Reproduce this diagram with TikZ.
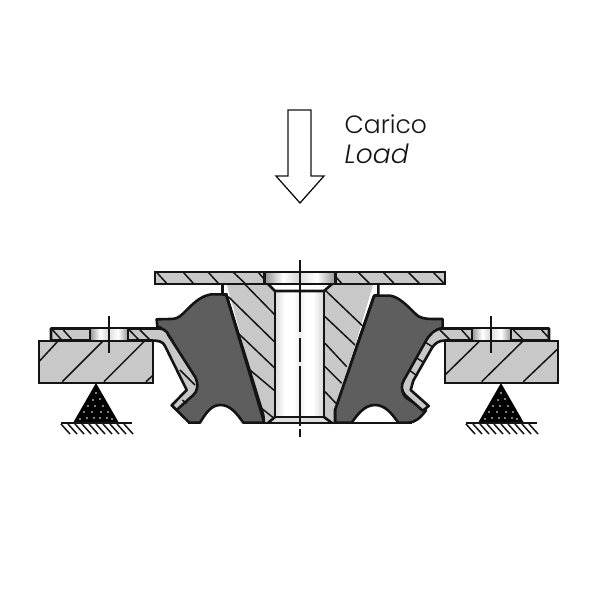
\documentclass[tikz,border=0pt]{standalone}
\usepackage{fontspec}
\setmainfont{Poppins Light}[ItalicFont={Poppins Light Italic}]
\definecolor{steel}{HTML}{C8C8C8}
\definecolor{rubber}{HTML}{5E5E5E}
\definecolor{ink}{HTML}{141414}
\pgfdeclarehorizontalshading{holeshade}{100bp}{
  color(0bp)=(black!42); color(25bp)=(black!42); color(38bp)=(white); color(48bp)=(black!15);
  color(62bp)=(white); color(75bp)=(black!42); color(100bp)=(black!42)}
\pgfdeclarehorizontalshading{tubeshade}{100bp}{
  color(0bp)=(black!14); color(25bp)=(black!14); color(35bp)=(white); color(44bp)=(white); color(50bp)=(black!8);
  color(56bp)=(white); color(64bp)=(white); color(75bp)=(black!16); color(100bp)=(black!16)}
\tikzset{
  thin line/.style={draw=ink,line width=1.4pt},
  hatchline/.style={draw=ink,line width=1.5pt},
  thick line/.style={draw=ink,line width=2.6pt,line join=round},
  part/.style={fill=steel,thick line},
  flesh/.style={fill=rubber,draw=ink,line width=2.6pt,line join=round},
  zoomA/.style={shift={(150,255)},x=0.3333pt,y=-0.3333pt},
  zoomB/.style={shift={(300,255)},x=0.3333pt,y=-0.3333pt},
  zoomC/.style={shift={(30,310)},x=0.3333pt,y=-0.3333pt},
  zoomD/.style={shift={(430,310)},x=0.3333pt,y=-0.3333pt},
  zoomE/.style={shift={(150,320)},x=0.3333pt,y=-0.3333pt},
  zoomF/.style={shift={(390,320)},x=0.3333pt,y=-0.3333pt},
  labeltext/.style={inner sep=0pt,anchor=base west,font=\fontsize{25}{25}\selectfont,text=ink},
}
\newcommand{\supportmark}[1]{%
  \begin{scope}[shift={(#1,0)}]
    \fill[black] (0,383) -- (23,423) -- (-23,423) -- cycle;
    \foreach \a/\b in {0/393,4/399,-3/400,-8/406,-1/406,7/406,12/412,5/412,-4/412,-12/412,-9/418,-2/418,4/418,11/418,16/419,-16/419}
      \fill[white] (\a,\b) circle (0.8);
    \draw[hatchline] (-35,423) -- (36,423);
    \foreach \a in {-35,-28,...,30}
      \draw[hatchline] (\a,424) -- (\a+9,434);
  \end{scope}}
\begin{document}
\begin{tikzpicture}[x=1pt,y=-1pt]
\useasboundingbox (0,0) rectangle (600,600);
\fill[white] (0,0) rectangle (600,600);

% load arrow
\draw[draw=ink,line width=1.3pt,line join=miter] (288,110) -- (311,110) -- (311,176) -- (324,176) -- (300,203) -- (276,176) -- (288,176) -- cycle;
\node[labeltext] (carico) at (344.5,133) {Carico};
\node[labeltext,font=\fontsize{26.5}{26.5}\selectfont] (load) at (344.5,163) {\itshape Load};

% supports
\supportmark{96}
\supportmark{501}

% blocks
\draw[fill=steel,draw=ink,line width=1.3pt] (39,341) rectangle (153,383);
\draw[fill=steel,draw=ink,line width=1.3pt] (445,341) rectangle (558,383);
\begin{scope}[zoomC]
  \draw[hatchline] (27,155) -- (85,92) (97,215) -- (220,92) (222,215) -- (345,92) (348,215) -- (368,197);
\end{scope}
\begin{scope}[zoomD]
  \draw[hatchline] (45,195) -- (150,92) (155,215) -- (280,92) (280,215) -- (385,115);
\end{scope}

% rubber spring, left
\begin{scope}[zoomA]
  \draw[flesh] (228,118) -- (185,118) .. controls (150,122) and (125,150) .. (100,175)
    .. controls (85,190) and (75,192) .. (60,192) -- (20,193) -- (22,215)
    .. controls (35,218) and (45,225) .. (62,250) -- (128,365)
    .. controls (138,385) and (137,400) .. (130,410)
    -- (66,452) -- (118,503) -- (150,503)
    .. controls (170,470) and (185,450) .. (212,450)
    .. controls (240,450) and (260,475) .. (280,503) -- (343,503) -- cycle;
\end{scope}
% rubber spring, right
\begin{scope}[zoomB]
  \draw[flesh] (222,122) -- (270,122) .. controls (295,125) and (320,150) .. (345,175)
    .. controls (355,188) and (375,192) .. (395,192) -- (428,192) -- (428,218)
    .. controls (410,222) and (395,235) .. (380,258) -- (313,380)
    .. controls (303,395) and (305,415) .. (318,428)
    -- (378,466) .. controls (362,488) and (345,503) .. (325,503) -- (295,503)
    .. controls (275,475) and (255,450) .. (225,450)
    .. controls (195,450) and (175,475) .. (155,503) -- (105,503) -- (105,465) -- cycle;
\end{scope}

% left flange + bracket
\draw[part] (51,328.5) -- (160,328.5) .. controls (165,329) and (168,333) .. (168.3,335)
  -- (195,376.7) .. controls (199.3,385) and (197,392) .. (193.3,395)
  -- (176.7,410) -- (171.7,405.3) -- (186.7,390) -- (165,346)
  .. controls (162.7,341) and (158,340.5) .. (150,340.5) -- (51,340.5) -- cycle;
% right flange + bracket
\draw[part] (549,328.5) -- (441.7,328.5) .. controls (435,329) and (430,334) .. (426,340.7)
  -- (404,380) .. controls (401,385) and (401,390) .. (405,395)
  -- (422.7,410.7) -- (428.7,406) -- (410.7,390) -- (413.3,380.7) -- (431.7,348.3)
  .. controls (435,343) and (439,340.5) .. (445,340.5) -- (549,340.5) -- cycle;

% flange holes
\shade[shading=holeshade] (90,329.5) rectangle (128,339.5);
\shade[shading=holeshade] (472,329.5) rectangle (511,339.5);
\draw[thick line] (90,328.5) -- (90,340.5) (128,328.5) -- (128,340.5);
\draw[thick line] (472,328.5) -- (472,340.5) (511,328.5) -- (511,340.5);

% flange hatching
\begin{scope}[zoomC]
  \draw[hatchline] (68,60) -- (95,90) (100,60) -- (125,88) (298,60) -- (325,88) (330,60) -- (358,88);
\end{scope}
\begin{scope}[zoomD]
  \draw[hatchline] (30,60) -- (58,88) (95,60) -- (120,88) (250,60) -- (280,90) (335,60) -- (358,85);
\end{scope}
% bracket hatching
\begin{scope}[zoomE]
  \draw[hatchline] (90,150) -- (135,195) (97,240) -- (110,250);
\end{scope}
\begin{scope}[zoomF]
  \draw[hatchline] (108,68) -- (130,82) (82,115) -- (102,128) (60,152) -- (82,168);
\end{scope}

% sleeve
\fill[steel] (227,285) -- (373,285) -- (336,410) -- (335,423) -- (265,423) -- (263,416) -- cycle;
\begin{scope}[zoomA]
  \draw[hatchline] (285,88) -- (375,180) (235,125) -- (375,262) (265,235) -- (375,340) (300,345) -- (375,408) (335,460) -- (372,490);
  \draw[thick line] (228,115) -- (340,480) -- (342,503);
  \draw[thick line] (218,88) -- (218,118) -- (230,118);
\end{scope}
\begin{scope}[zoomB]
  \draw[hatchline] (75,105) -- (190,215) (75,185) -- (165,270) (75,265) -- (140,335) (75,335) -- (125,385) (75,410) -- (108,445);
  \draw[thick line] (222,125) -- (105,465) -- (105,503);
  \draw[thick line] (235,88) -- (235,120) -- (222,122);
\end{scope}

% tube bore
\shade[shading=tubeshade] (275,291) rectangle (324,417);
\fill[white] (268,285) -- (332,285) -- (324,291) -- (275,291) -- cycle;
\fill[white!88!black] (275,417.5) -- (324,417.5) -- (332,422) -- (268,422) -- cycle;
\draw[thick line] (268,284) -- (275,291) -- (324,291) -- (332,284);
\draw[thick line] (275,291) -- (275,417) -- (324,417) -- (324,291);
\draw[thick line] (275,417) -- (268,423) (324,417) -- (332,423);
\draw[thick line] (188,423) -- (200,423) (243,423) -- (412,423);

% top plate
\fill[steel] (155,272) rectangle (445,284);
\shade[shading=holeshade] (265,272.5) rectangle (335,283);
\draw[draw=ink,line width=1.3pt] (155,272) rectangle (445,284);
\draw[thick line] (155,284) -- (445,284) (264.5,272) -- (264.5,284) (335.5,272) -- (335.5,284);
\begin{scope}[zoomA]
  \draw[hatchline] (20,52) -- (50,85) (100,52) -- (130,85) (175,52) -- (205,85) (250,52) -- (285,85) (325,52) -- (342,72);
\end{scope}
\begin{scope}[zoomB]
  \draw[hatchline] (107,65) -- (125,85) (175,52) -- (208,85) (250,52) -- (282,85) (325,52) -- (358,85) (400,52) -- (432,85);
\end{scope}

% centre lines
\draw[draw=ink,line width=1.4pt] (300,260) -- (300,332) (300,338) -- (300,362) (300,366) -- (300,426) (300,429) -- (300,437);
\draw[draw=ink,line width=1.8pt] (109,316) -- (109,353);
\draw[draw=ink,line width=1.8pt] (491,316) -- (491,353);
\end{tikzpicture}
\end{document}
